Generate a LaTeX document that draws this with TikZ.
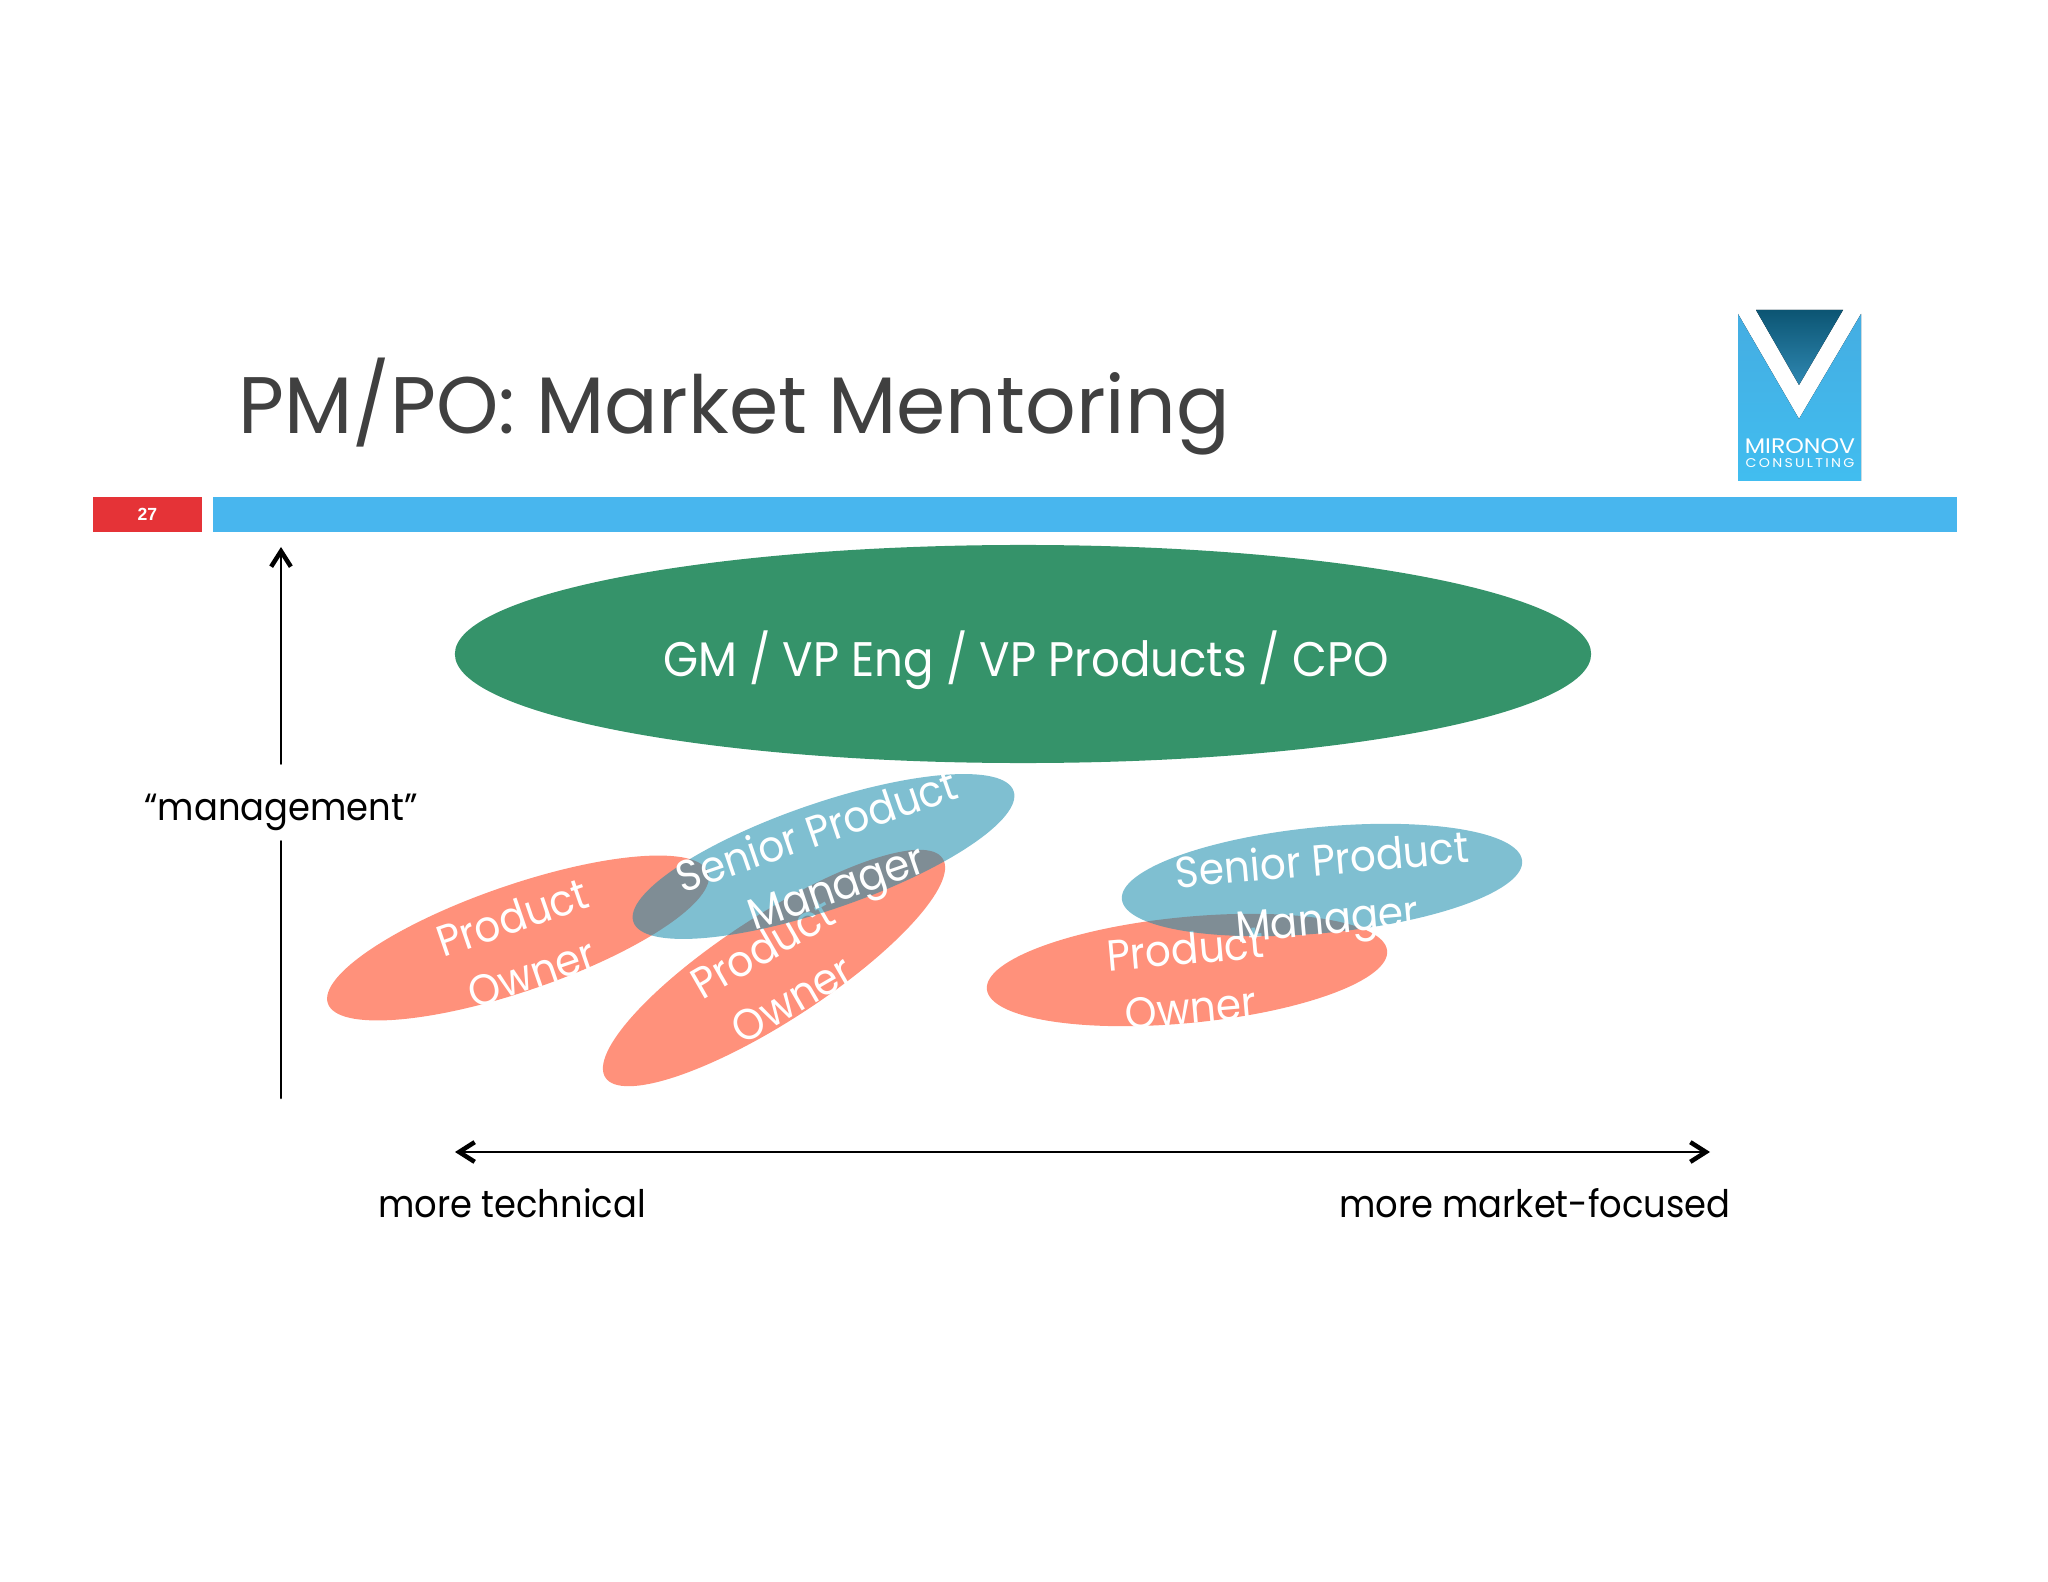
\documentclass[tikz,border=0pt]{standalone}
\usepackage{fontspec}
\setmainfont[FakeStretch=0.93]{Poppins}
\newfontfamily\titlefont[FakeStretch=0.99]{Poppins}
\newfontfamily\logofont[FakeStretch=1.12]{Poppins}
\newfontfamily\arialfont{Liberation Sans}
\usetikzlibrary{arrows.meta,shapes.geometric}
\definecolor{barblue}{HTML}{48B6EE}
\definecolor{barred}{HTML}{E53337}
\definecolor{titlegray}{HTML}{404040}
\definecolor{gmgreen}{HTML}{35936A}
\definecolor{posalmon}{HTML}{FF917B}
\definecolor{spmteal}{HTML}{168BAC}
\definecolor{logotop}{HTML}{0C5573}
\definecolor{logobot}{HTML}{2F88B2}
\tikzset{
    pobox/.style={ellipse,fill=posalmon,inner sep=0pt,minimum width=10.05cm,minimum height=2.65cm},
    spmbox/.style={ellipse,fill=spmteal,fill opacity=0.55,inner sep=0pt,minimum width=10.05cm,minimum height=2.65cm},
    rolelabel/.style={text=white,align=center,font=\fontsize{31}{42}\selectfont},
    axislabel/.style={text=black,font=\fontsize{27}{32}\selectfont},
    axisline/.style={line width=1.8pt,line cap=round,>={Straight Barb[length=11pt,width=14pt,line width=3.2pt]}},
  }

\begin{document}
\begin{tikzpicture}[x=0.025cm,y=-0.025cm]
	\useasboundingbox (0,0) rectangle (2048,1582);
	%TITLE
	\node[anchor=base west,inner sep=0pt,text=titlegray,font=\titlefont\fontsize{57}{70}\selectfont] (title) at (238,434) {PM/PO: Market Mentoring};
	%BARS
	\node[fill=barred,minimum width=2.725cm,minimum height=0.875cm,inner sep=0pt,text=white,font=\arialfont\bfseries\fontsize{12.5}{15}\selectfont] (pagenum) at (147.5,514.5) {27};
	\node[fill=barblue,minimum width=43.6cm,minimum height=0.875cm,inner sep=0pt] (bar) at (1085,514.5) {};
	%LOGO
	\fill[top color=barblue!95!black,bottom color=barblue!90!cyan] (1738,314) -- (1799,419) -- (1861,314) -- (1861,481) -- (1738,481) -- cycle;
	\fill[top color=logotop,bottom color=logobot] (1756,310) -- (1843,310) -- (1799,385) -- cycle;
	\node[text=white,inner sep=0pt,font=\logofont\fontsize{15}{18}\selectfont] (logoa) at (1800,446) {MIRONOV};
	\node[text=white,inner sep=0pt,font=\logofont\addfontfeature{LetterSpace=18}\fontsize{9}{11}\selectfont] (logob) at (1800,463) {CONSULTING};
	%TOP ELLIPSE
	\node[ellipse,fill=gmgreen,minimum width=28.4cm,minimum height=5.45cm,inner sep=0pt] (gm) at (1023,654) {};
	\node[text=white,font=\fontsize{34.5}{40}\selectfont] (gmlabel) at (1026,660) {GM / VP Eng / VP Products / CPO};
	%PRODUCT OWNERS
	\node[pobox,rotate=19] (poa) at (518,938) {};
	\node[rolelabel,rotate=19] (poalabel) at (522,945) {Product\\Owner};
	\node[pobox,rotate=33] (pob) at (774,968) {};
	\node[rolelabel,rotate=30] (poblabel) at (777,973) {Product\\Owner};
	\node[pobox,rotate=5.5] (poc) at (1187,970) {};
	\node[rolelabel,rotate=5] (poclabel) at (1188,978) {Product\\Owner};
	%SENIOR PMS
	\node[spmbox,rotate=19] (spma) at (823.5,856.5) {};
	\node[rolelabel,rotate=19] (spmalabel) at (828,863) {Senior Product\\Manager};
	\node[spmbox,rotate=5.5] (spmb) at (1322,880) {};
	\node[rolelabel,rotate=5] (spmblabel) at (1325,894) {Senior Product\\Manager};
	%AXES
	\coordinate (vtop) at (281,547);
	\coordinate (vbot) at (281,1098);
	\node[axislabel,minimum height=1.925cm,inner sep=0pt] (mgmt) at (281,802.5) {\raisebox{-13pt}[0pt][0pt]{“management”}};
	\draw[axisline,->] (mgmt) -- (vtop);
	\draw[axisline] (mgmt) -- (vbot);
	\coordinate (hleft) at (455,1152);
	\coordinate (hright) at (1710,1152);
	\draw[axisline,<->] (hleft) -- (hright);
	\node[axislabel,anchor=base west,inner sep=0pt] (tech) at (378,1217) {more technical};
	\node[axislabel,anchor=base east,inner sep=0pt] (market) at (1731,1217) {more market-focused};
\end{tikzpicture}
\end{document}
